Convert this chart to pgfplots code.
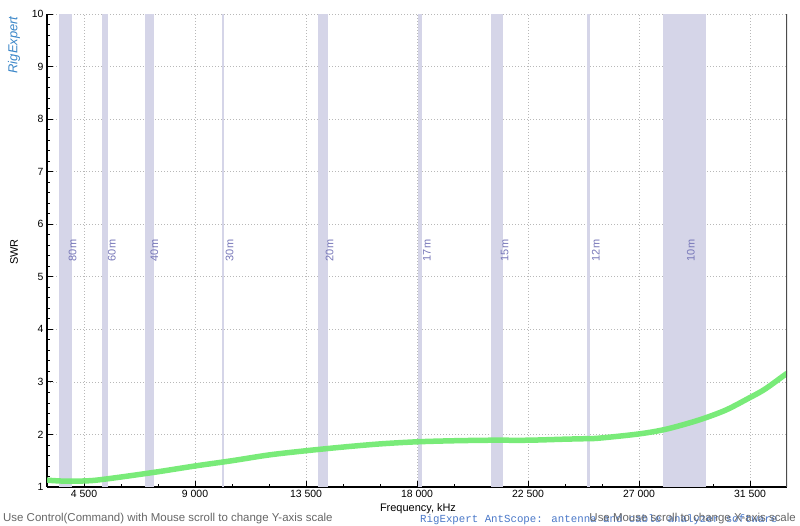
\documentclass[border=0pt]{standalone}
\usepackage{pgfplots}
\pgfplotsset{compat=1.18}
\usepackage{fontspec}
\setmainfont{Liberation Sans}
\newfontfamily\monofont{Liberation Mono}
\definecolor{band}{HTML}{D5D5E8}
\definecolor{bandtext}{HTML}{7676B8}
\definecolor{curve}{HTML}{72EA72}
\definecolor{hint}{HTML}{666666}
\definecolor{logo}{HTML}{3A86C8}
\definecolor{mono}{HTML}{4A78C8}
\begin{document}
\begin{tikzpicture}
\useasboundingbox (0,0) rectangle (800bp,526bp);
\begin{axis}[
  at={(47bp,39bp)}, anchor=south west,
  scale only axis, width=740bp, height=473bp,
  xmin=3000, xmax=33000, ymin=1, ymax=10,
  axis x line*=bottom, axis y line*=left,
  axis line style={line width=1.3bp, black, -},
  tick align=inside,
  major tick length=6bp, minor tick length=3bp,
  tick style={black, line width=0.8bp},
  xtick={4500,9000,13500,18000,22500,27000,31500},
  minor xtick={6000,7500,10500,12000,15000,16500,19500,21000,24000,25500,28500,30000},
  ytick={1,2,3,4,5,6,7,8,9,10},
  minor y tick num=4,
  scaled x ticks=false,
  grid=major,
  major grid style={dash pattern=on 1bp off 2bp, black!28, line width=0.6bp},
  /pgf/number format/assume math mode=true,
  xticklabel style={/pgf/number format/fixed, /pgf/number format/precision=0, /pgf/number format/1000 sep={\ }},
  ticklabel style={font=\fontsize{10.5}{12}\selectfont},
  clip=true,
]
% amateur bands
\addplot[fill=band, draw=band, line width=0.5bp] coordinates {(3500,1) (4000,1) (4000,10) (3500,10)} -- cycle;
\addplot[fill=band, draw=band, line width=0.5bp] coordinates {(5250,1) (5450,1) (5450,10) (5250,10)} -- cycle;
\addplot[fill=band, draw=band, line width=0.5bp] coordinates {(7000,1) (7300,1) (7300,10) (7000,10)} -- cycle;
\addplot[fill=band, draw=band, line width=0.8bp] coordinates {(10100,1) (10150,1) (10150,10) (10100,10)} -- cycle;
\addplot[fill=band, draw=band, line width=0.5bp] coordinates {(14000,1) (14350,1) (14350,10) (14000,10)} -- cycle;
\addplot[fill=band, draw=band, line width=0.8bp] coordinates {(18068,1) (18168,1) (18168,10) (18068,10)} -- cycle;
\addplot[fill=band, draw=band, line width=0.5bp] coordinates {(21000,1) (21450,1) (21450,10) (21000,10)} -- cycle;
\addplot[fill=band, draw=band, line width=0.8bp] coordinates {(24890,1) (24990,1) (24990,10) (24890,10)} -- cycle;
\addplot[fill=band, draw=band, line width=0.5bp] coordinates {(28000,1) (29700,1) (29700,10) (28000,10)} -- cycle;
% band labels
\begin{scope}[every node/.style={rotate=90, text=bandtext, font=\fontsize{11}{13}\selectfont}]
\node at (axis cs:4034,5.5) {80m};
\node at (axis cs:5634,5.5) {60m};
\node at (axis cs:7350,5.5) {40m};
\node at (axis cs:10400,5.5) {30m};
\node at (axis cs:14460,5.5) {20m};
\node at (axis cs:18400,5.5) {17m};
\node at (axis cs:21550,5.5) {15m};
\node at (axis cs:25250,5.5) {12m};
\node at (axis cs:29100,5.5) {10m};
\end{scope}
% SWR curve
\addplot[curve, line width=5.5bp, smooth, opacity=0.95] coordinates {
(3000,1.13) (3500,1.115) (4000,1.11) (4500,1.115) (5000,1.13) (6000,1.19)
(7500,1.29) (9000,1.40) (10500,1.50) (12000,1.61) (13500,1.69) (15000,1.76)
(16500,1.82) (18000,1.86) (19500,1.88) (21000,1.89) (22500,1.89) (24000,1.91)
(24900,1.92) (25400,1.93) (27000,2.01) (28100,2.10) (29400,2.27) (30500,2.46)
(31450,2.69) (32100,2.86) (32900,3.13) (33000,3.16)
};
\draw[line width=2.6bp, black!70] (rel axis cs:1,0) -- (rel axis cs:1,1.004);
\end{axis}
% labels and texts
\node[rotate=90, font=\fontsize{11}{13}\selectfont] at (14bp,274bp) {SWR};
\node[font=\fontsize{11}{13}\selectfont] at (418bp,17bp) {Frequency, kHz};
\node[rotate=90, text=logo, font=\itshape\fontsize{13}{15}\selectfont] at (14bp,481bp) {RigExpert};
\node[anchor=west, text=hint, font=\fontsize{11.5}{13}\selectfont, inner sep=0pt] at (3bp,7bp) {Use Control(Command) with Mouse scroll to change Y-axis scale};
\node[anchor=west, text=mono, font=\monofont\fontsize{10.8}{12}\selectfont, inner sep=0pt] at (420bp,6bp) {RigExpert AntScope: antenna and cable analyzer software};
\node[anchor=east, text=hint, font=\fontsize{11.5}{13}\selectfont, inner sep=0pt] at (796bp,7bp) {Use Mouse scroll to change X-axis scale};
\end{tikzpicture}
\end{document}
